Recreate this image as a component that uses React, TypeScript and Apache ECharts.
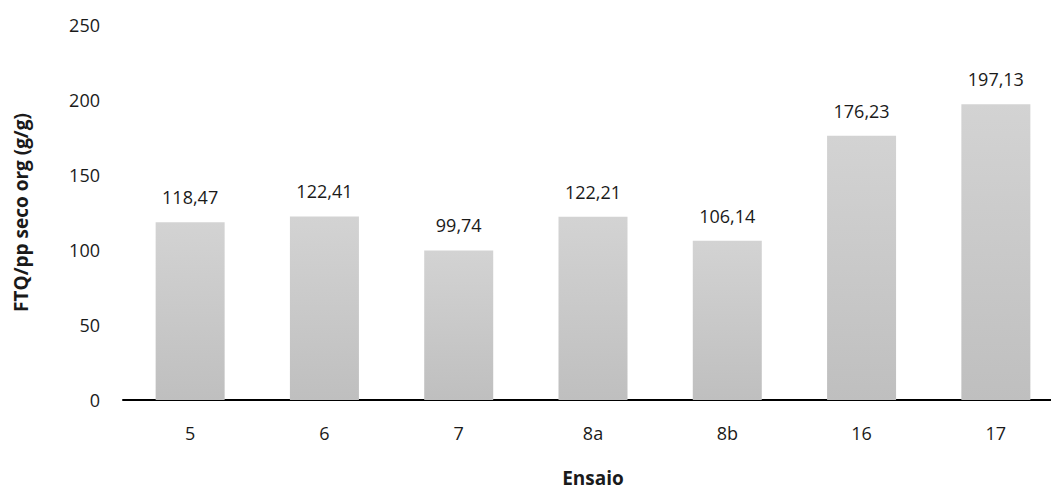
import React, { useEffect, useRef } from "react";
import * as echarts from "echarts";

const categories = ["5", "6", "7", "8a", "8b", "16", "17"];
const values = [118.47, 122.41, 99.74, 122.21, 106.14, 176.23, 197.13];
const yTicks = { min: 0, max: 250, interval: 50 };
const xTitle = "Ensaio";
const yTitle = "FTQ/pp seco org (g/g)";

const FONT = "'Open Sans', 'Noto Sans', sans-serif";
const TEXT = "#1a1a1a";

export default function App() {
  const ref = useRef<HTMLDivElement>(null);
  useEffect(() => {
    if (!ref.current) return;
    const chart = echarts.init(ref.current, undefined, { renderer: "svg" });
    chart.setOption({
      animation: false,
      backgroundColor: "#ffffff",
      grid: { left: 123, right: -12, top: 25, bottom: 92, outerBoundsMode: "none", containLabel: false },
      xAxis: {
        type: "category",
        data: categories,
        name: xTitle,
        nameLocation: "middle",
        nameGap: 68,
        nameTextStyle: { fontFamily: FONT, fontSize: 19, fontWeight: "bold", color: TEXT },
        axisLine: { show: true, lineStyle: { color: "#000", width: 2 } },
        axisTick: { show: false },
        axisLabel: { fontFamily: FONT, fontSize: 18, color: TEXT, margin: 24 },
      },
      yAxis: {
        type: "value",
        min: yTicks.min,
        max: yTicks.max,
        interval: yTicks.interval,
        name: yTitle,
        nameLocation: "middle",
        nameGap: 93,
        nameTextStyle: { fontFamily: FONT, fontSize: 19, fontWeight: "bold", color: TEXT },
        axisLine: { show: false },
        axisTick: { show: false },
        splitLine: { show: false },
        axisLabel: { fontFamily: FONT, fontSize: 18, color: TEXT, margin: 23 },
      },
      series: [
        {
          type: "bar",
          data: values,
          barWidth: 69,
          itemStyle: {
            color: new echarts.graphic.LinearGradient(0, 0, 0, 1, [
              { offset: 0, color: "#d3d3d3" },
              { offset: 1, color: "#bfbfbf" },
            ]),
          },
          label: {
            show: true,
            position: "top",
            distance: 16,
            fontFamily: FONT,
            fontSize: 18,
            color: TEXT,
            formatter: (p: any) => p.value.toFixed(2).replace(".", ","),
          },
        },
      ],
    });
    return () => chart.dispose();
  }, []);
  return (
    <div
      ref={ref}
      style={{ position: "absolute", left: 0, top: 0, width: 1051, height: 492 }}
    />
  );
}
